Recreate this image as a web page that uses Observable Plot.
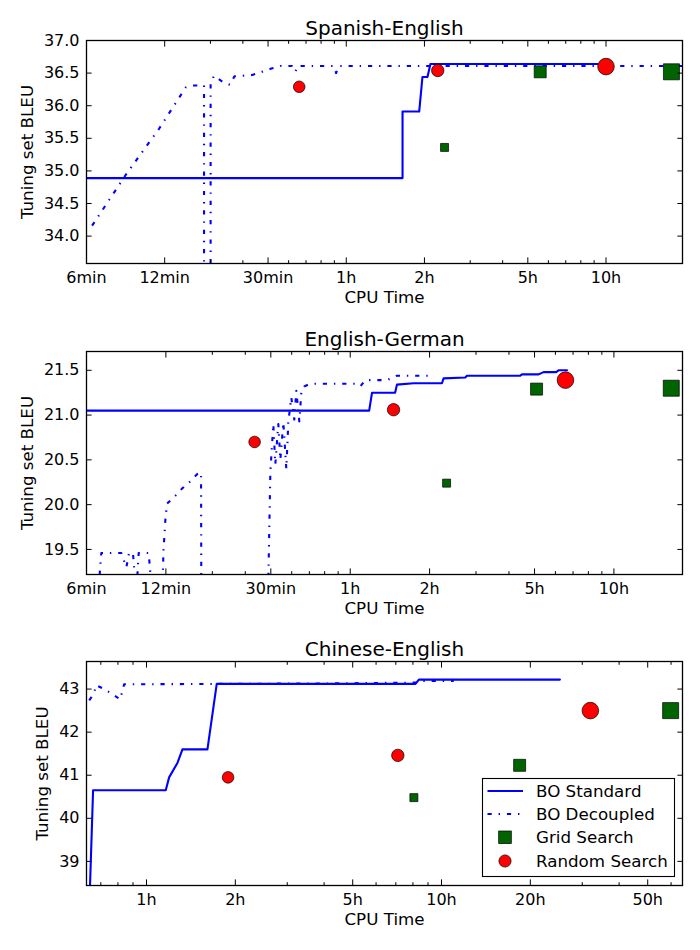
<!DOCTYPE html>
<html>
<head>
<meta charset="utf-8">
<script src="https://cdn.jsdelivr.net/npm/d3@7"></script>
<script src="https://cdn.jsdelivr.net/npm/@observablehq/plot@0.6"></script>
<style>
  body { margin: 0; background: #fff; }
  #chart { width: 700px; height: 950px; position: relative; background: #fff; }
  #chart svg { display: block; }
</style>
</head>
<body>
<div id="chart"></div>
<script>
// ---------------- DATA ----------------
const seriesNames = ["BO Standard", "BO Decoupled", "Grid Search", "Random Search"];
const panelTitles = ["Spanish-English", "English-German", "Chinese-English"];
const xAxisTitle = "CPU Time";
const yAxisTitle = "Tuning set BLEU";
const budgetLevels = ["small", "medium", "large"];

// CPU time in hours
const xTicksMin = [0.1, 0.2, 0.5, 1, 2, 5, 10];
const xTickLabelsMin = ["6min", "12min", "30min", "1h", "2h", "5h", "10h"];
const xTicksHour = [1, 2, 5, 10, 20, 50];
const xTickLabelsHour = ["1h", "2h", "5h", "10h", "20h", "50h"];

const yTicksEs = [34.0, 34.5, 35.0, 35.5, 36.0, 36.5, 37.0];
const yTicksDe = [19.5, 20.0, 20.5, 21.0, 21.5];
const yTicksZh = [39, 40, 41, 42, 43];

// Spanish-English
const esStdTime = [0.1, 1.647, 1.647, 1.909, 1.965, 2.054, 2.109, 9.3];
const esStdBleu = [34.89, 34.89, 35.91, 35.91, 36.44, 36.44, 36.64, 36.64];
const esDecTime = [0.1051, 0.1411, 0.1905, 0.241, 0.2557, 0.2835, 0.2835, 0.3005, 0.3005, 0.3097, 0.3332, 0.3566, 0.3713, 0.4342, 0.4742, 0.5148, 0.5574, 0.618, 0.6364, 0.6516, 0.8956, 0.914, 0.9359, 2.1, 20];
const esDecBleu = [34.16, 34.93, 35.65, 36.28, 36.31, 36.31, 33.0, 33.0, 36.34, 36.46, 36.37, 36.32, 36.45, 36.47, 36.52, 36.57, 36.61, 36.61, 36.52, 36.61, 36.61, 36.50, 36.61, 36.61, 36.61];
const esGridTime = [2.39, 5.58, 17.86];
const esGridBleu = [35.36, 36.52, 36.52];
const esRandTime = [0.659, 2.25, 10.0];
const esRandBleu = [36.29, 36.54, 36.60];

// English-German
const deStdTime = [0.1, 1.18, 1.21, 1.48, 1.504, 1.739, 2.228, 2.26, 2.732, 2.772, 4.415, 4.48, 5.18, 5.41, 6.04, 6.17, 6.64];
const deStdBleu = [21.05, 21.05, 21.25, 21.25, 21.34, 21.355, 21.355, 21.41, 21.42, 21.44, 21.44, 21.455, 21.455, 21.48, 21.48, 21.50, 21.50];
const deDecTime = [0.1107, 0.1138, 0.1356, 0.1416, 0.1450, 0.1500, 0.1545, 0.1577, 0.1721, 0.1773, 0.1935, 0.1960, 0.1991, 0.2020, 0.2173, 0.2304, 0.2455, 0.2626, 0.2719, 0.2725, 0.4881, 0.4980, 0.5110, 0.5200, 0.5339, 0.5433, 0.5577, 0.5725, 0.5825, 0.5978, 0.6137, 0.6246, 0.6412, 0.6526, 0.6693, 0.7053, 1.045, 1.092, 1.141, 1.379, 1.504, 2.071];
const deDecBleu = [19.0, 19.46, 19.46, 19.30, 19.46, 19.46, 19.0, 19.46, 19.46, 19.0, 19.0, 19.5, 19.83, 20.01, 20.10, 20.18, 20.25, 20.34, 20.36, 19.0, 19.0, 20.37, 20.90, 20.45, 20.90, 20.50, 20.92, 20.40, 20.92, 21.20, 20.95, 21.27, 20.93, 21.25, 21.32, 21.35, 21.35, 21.32, 21.39, 21.39, 21.44, 21.44];
const deGridTime = [2.32, 5.09, 16.5];
const deGridBleu = [20.24, 21.29, 21.30];
const deRandTime = [0.434, 1.46, 6.55];
const deRandBleu = [20.70, 21.06, 21.39];

// Chinese-English
const zhStdTime = [0.637, 0.659, 1.162, 1.193, 1.274, 1.324, 1.609, 1.730, 8.16, 8.38, 25.2];
const zhStdBleu = [37.5, 40.65, 40.65, 40.95, 41.29, 41.60, 41.60, 43.12, 43.12, 43.22, 43.22];
const zhDecTime = [0.6393, 0.6645, 0.6735, 0.7096, 0.7672, 0.8141, 0.8397, 4.0, 8.28, 8.49, 11.0];
const zhDecBleu = [42.74, 42.90, 43.09, 43.02, 42.88, 42.76, 43.11, 43.13, 43.15, 43.19, 43.19];
const zhGridTime = [8.06, 18.4, 59.8];
const zhGridBleu = [40.48, 41.23, 42.50];
const zhRandTime = [1.89, 7.11, 31.96];
const zhRandBleu = [40.95, 41.46, 42.50];

// ---------------- STYLE ----------------
const BLUE = "#0000ff", GREEN = "#006400", RED = "#ff0000";
const DASHDOT = "4.2,6.9,1.4,6.9";
const FONT = "DejaVu Sans";
const LABEL_SIZE = 16.7, TICK_SIZE = 16, TITLE_SIZE = 20;
const SQUARE_R = {small: 4.51, medium: 6.77, large: 9.03};   // side = r*sqrt(pi)
const CIRCLE_R = {small: 5.8, medium: 6.2, large: 8.3};
const MAJOR = 5.6, MINOR = 2.8;

const zip = (ts, bs) => ts.map((t, i) => ({t, b: bs[i]}));
const zipSized = (ts, bs) => ts.map((t, i) => ({t, b: bs[i], size: budgetLevels[i]}));

function minorLogTicks([lo, hi], majors) {
  const out = [];
  for (let e = -2; e <= 3; e++) for (let m = 1; m <= 9; m++) {
    const v = +(m * Math.pow(10, e)).toPrecision(6);
    if (v >= lo && v <= hi && !majors.includes(v)) out.push(v);
  }
  return out;
}

function panel(o) {
  const minor = minorLogTicks(o.xDomain, o.xMajor);
  const yFmt = d3.format(o.yFormat);
  const noText = () => "";
  const xTickData = o.xMajor.map((v, i) => ({v, label: o.xLabels[i]}));
  return Plot.plot({
    width: 700, height: o.height,
    marginTop: o.marginTop, marginBottom: o.marginBottom, marginLeft: 86, marginRight: 18,
    x: {type: "log", domain: o.xDomain},
    y: {domain: o.yDomain},
    r: {type: "identity"},
    style: {fontFamily: FONT, fontSize: TICK_SIZE + "px", background: "white", overflow: "visible"},
    marks: [
      Plot.line(zip(o.stdT, o.stdB), {x: "t", y: "b", stroke: BLUE, strokeWidth: 2.1, clip: true}),
      Plot.line(zip(o.decT, o.decB), {x: "t", y: "b", stroke: BLUE, strokeWidth: 2.1, strokeDasharray: DASHDOT, strokeLinecap: "butt", clip: true}),
      Plot.dot(zipSized(o.gridT, o.gridB), {x: "t", y: "b", symbol: "square", r: d => SQUARE_R[d.size], fill: GREEN, stroke: "black", strokeWidth: 0.7}),
      Plot.dot(zipSized(o.randT, o.randB), {x: "t", y: "b", symbol: "circle", r: d => CIRCLE_R[d.size], fill: RED, stroke: "black", strokeWidth: 0.7}),
      // inward ticks on all sides
      Plot.axisX(o.xMajor, {anchor: "bottom", tickSize: -MAJOR, tickFormat: noText, ticks: Infinity, label: null}),
      Plot.axisX(o.xMajor, {anchor: "top", tickSize: -MAJOR, tickFormat: noText, ticks: Infinity, label: null}),
      Plot.axisX(minor, {anchor: "bottom", tickSize: -MINOR, tickFormat: noText, ticks: Infinity, label: null}),
      Plot.axisX(minor, {anchor: "top", tickSize: -MINOR, tickFormat: noText, ticks: Infinity, label: null}),
      Plot.axisY(o.yTicks, {anchor: "left", tickSize: -MAJOR, tickFormat: noText, label: null}),
      Plot.axisY(o.yTicks, {anchor: "right", tickSize: -MAJOR, tickFormat: noText, label: null}),
      // tick labels
      Plot.text(xTickData, {x: "v", text: "label", frameAnchor: "bottom", dy: 8, lineAnchor: "top", textAnchor: "middle", fontSize: TICK_SIZE}),
      Plot.axisY(o.yTicks, {anchor: "left", tickSize: 0, tickPadding: 7, tickFormat: yFmt, label: null, fontSize: TICK_SIZE}),
      Plot.frame({stroke: "black", strokeWidth: 1.3}),
      Plot.text([o.title], {text: d => d, frameAnchor: "top", dy: -5.5, lineAnchor: "bottom", fontSize: TITLE_SIZE}),
      Plot.text([xAxisTitle], {text: d => d, frameAnchor: "bottom", dy: 39.5, lineAnchor: "bottom", fontSize: LABEL_SIZE}),
      Plot.text([yAxisTitle], {text: d => d, frameAnchor: "left", dx: o.yLabelDx, rotate: -90, lineAnchor: "middle", textAnchor: "middle", fontSize: LABEL_SIZE})
    ]
  });
}

const chart = document.getElementById("chart");

const p1 = panel({
  title: panelTitles[0], height: 311, marginTop: 40, marginBottom: 48,
  xDomain: [0.1, 19.7], yDomain: [33.58, 37.0],
  xMajor: xTicksMin, xLabels: xTickLabelsMin, yTicks: yTicksEs, yFormat: ".1f", yLabelDx: -59,
  stdT: esStdTime, stdB: esStdBleu, decT: esDecTime, decB: esDecBleu,
  gridT: esGridTime, gridB: esGridBleu, randT: esRandTime, randB: esRandBleu
});
const p2 = panel({
  title: panelTitles[1], height: 311, marginTop: 40, marginBottom: 48,
  xDomain: [0.1, 18.2], yDomain: [19.22, 21.71],
  xMajor: xTicksMin, xLabels: xTickLabelsMin, yTicks: yTicksDe, yFormat: ".1f", yLabelDx: -59,
  stdT: deStdTime, stdB: deStdBleu, decT: deDecTime, decB: deDecBleu,
  gridT: deGridTime, gridB: deGridBleu, randT: deRandTime, randB: deRandBleu
});
const p3 = panel({
  title: panelTitles[2], height: 328, marginTop: 39, marginBottom: 65,
  xDomain: [0.626, 65.6], yDomain: [38.44, 43.64],
  xMajor: xTicksHour, xLabels: xTickLabelsHour, yTicks: yTicksZh, yFormat: "d", yLabelDx: -44,
  stdT: zhStdTime, stdB: zhStdBleu, decT: zhDecTime, decB: zhDecBleu,
  gridT: zhGridTime, gridB: zhGridBleu, randT: zhRandTime, randB: zhRandBleu
});
chart.append(p1, p2, p3);

// legend inside the third panel
(function legend(svgNode) {
  const svg = d3.select(svgNode);
  const bx = 482.5, by = 156.5, bw = 192, bh = 98;
  const rowY = [169, 192, 215.3, 239];
  const g = svg.append("g").attr("font-family", FONT).attr("font-size", LABEL_SIZE).attr("text-anchor", "start");
  g.append("rect").attr("x", bx).attr("y", by).attr("width", bw).attr("height", bh)
    .attr("fill", "white").attr("stroke", "black").attr("stroke-width", 1.1);
  // BO Standard
  g.append("line").attr("x1", 487.5).attr("x2", 523).attr("y1", rowY[0]).attr("y2", rowY[0])
    .attr("stroke", BLUE).attr("stroke-width", 2.1);
  // BO Decoupled
  g.append("line").attr("x1", 487.5).attr("x2", 523).attr("y1", rowY[1]).attr("y2", rowY[1])
    .attr("stroke", BLUE).attr("stroke-width", 2.1).attr("stroke-dasharray", DASHDOT);
  // Grid Search
  g.append("rect").attr("x", 505 - 6.3).attr("y", rowY[2] - 6.3).attr("width", 12.6).attr("height", 12.6)
    .attr("fill", GREEN).attr("stroke", "black").attr("stroke-width", 0.7);
  // Random Search
  g.append("circle").attr("cx", 505).attr("cy", rowY[3]).attr("r", 6.1)
    .attr("fill", RED).attr("stroke", "black").attr("stroke-width", 0.7);
  seriesNames.forEach((name, i) => {
    g.append("text").attr("x", 536).attr("y", rowY[i] + 6).attr("text-anchor", "start").attr("fill", "black").text(name);
  });
})(p3);
</script>
</body>
</html>
